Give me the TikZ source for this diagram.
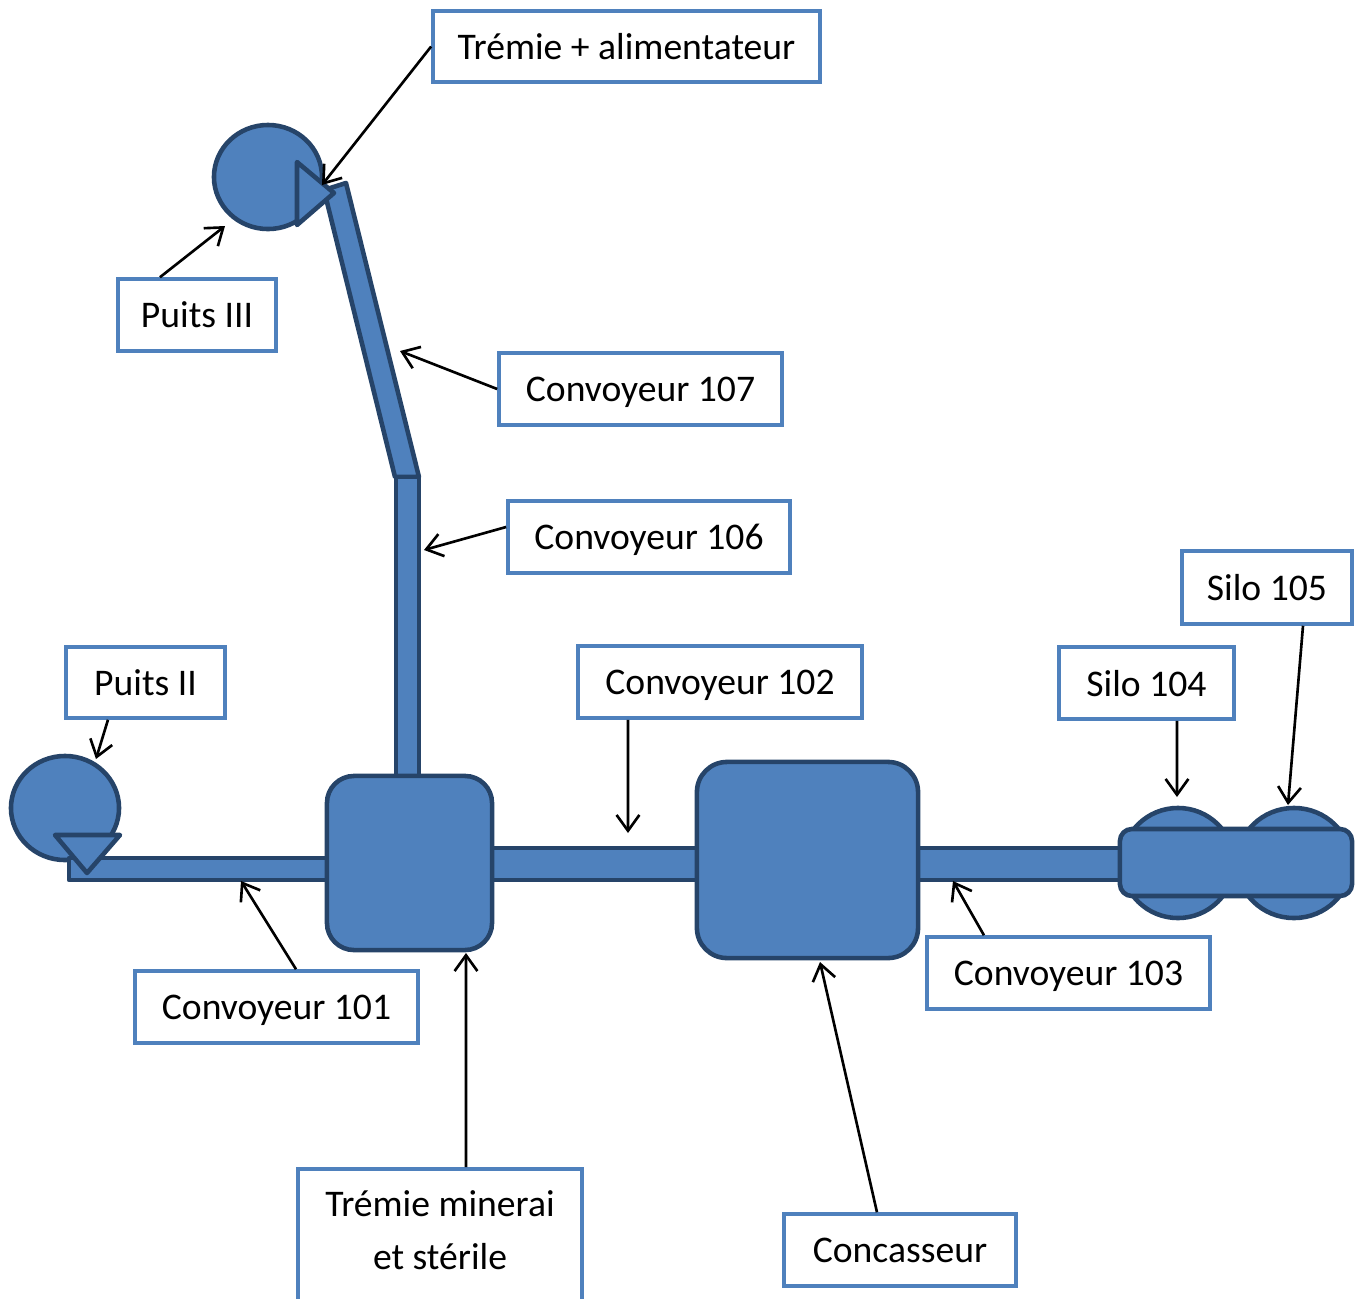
\documentclass[tikz,border=0pt]{standalone}
\usepackage{fontspec}
\setmainfont{Carlito}
\usetikzlibrary{arrows.meta,shapes.geometric}
\definecolor{unitfill}{HTML}{4F81BD}
\definecolor{unitline}{HTML}{264469}
\definecolor{tagline}{HTML}{4F81BD}
\begin{document}
\begin{tikzpicture}[x=0.01cm,y=-0.01cm,
  unit/.style={draw=unitline, fill=unitfill, line width=1.3pt, line join=round},
  tag/.style={draw=tagline, line width=1pt, fill=white, inner sep=0pt, text depth=0pt,
    font=\fontsize{10.7}{15}\selectfont, align=center},
  plain/.style={inner sep=0pt, font=\fontsize{10.7}{15}\selectfont, align=center},
  pointer/.style={-{Straight Barb[length=4.5pt,width=6.5pt]}, line width=0.75pt, black}
]
\useasboundingbox (0,0) rectangle (1362,1299);

% --- shaft III, its feed hopper and the inclined conveyor 107 ---
\node[unit, ellipse, inner sep=0pt, minimum width=1.08cm, minimum height=1.04cm] (puits3) at (268,177) {};
\draw[unit] (324,190) -- (346,183) -- (419,477) -- (395,477) -- cycle;
\draw[unit] (396,477) rectangle (419,777);
\draw[unit] (297,162) -- (334,193) -- (297,225) -- cycle;

% --- shaft II and conveyor 101 ---
\node[unit, ellipse, inner sep=0pt, minimum width=1.08cm, minimum height=1.04cm] (puits2) at (65,808) {};
\draw[unit] (69,858) rectangle (330,880);
\draw[unit] (55,835) -- (120,835) -- (87,873) -- cycle;

% --- conveyors 102 and 103 ---
\draw[unit] (490,848) rectangle (700,880);
\draw[unit] (915,848) rectangle (1125,880);

% --- ore / waste hopper and crusher ---
\node[unit, rounded corners=0.27cm, minimum width=1.65cm, minimum height=1.74cm] (hopper) at (409.5,863) {};
\node[unit, rounded corners=0.30cm, minimum width=2.21cm, minimum height=1.96cm] (crusher) at (807.5,860) {};

% --- silos 104 and 105 ---
\node[unit, ellipse, inner sep=0pt, minimum width=1.12cm, minimum height=1.10cm] (silo104) at (1178,863) {};
\node[unit, ellipse, inner sep=0pt, minimum width=1.14cm, minimum height=1.10cm] (silo105) at (1294,863) {};
\node[unit, rounded corners=0.12cm, minimum width=2.32cm, minimum height=0.67cm] (silobar) at (1236,862.5) {};

% --- labels ---
\node[tag, minimum width=3.87cm, minimum height=0.71cm] (tagFeed) at (626.5,46.5) {Trémie + alimentateur};
\node[tag, minimum width=1.58cm, minimum height=0.72cm] (tagP3) at (197,315) {Puits III};
\node[tag, minimum width=2.83cm, minimum height=0.72cm] (tag107) at (640.5,389) {Convoyeur 107};
\node[tag, minimum width=2.82cm, minimum height=0.72cm] (tag106) at (649,537) {Convoyeur 106};
\node[tag, minimum width=1.59cm, minimum height=0.71cm] (tagP2) at (145.5,682.5) {Puits II};
\node[tag, minimum width=2.84cm, minimum height=0.72cm] (tag102) at (720,682) {Convoyeur 102};
\node[tag, minimum width=1.75cm, minimum height=0.72cm] (tagS104) at (1146.5,683) {Silo 104};
\node[tag, minimum width=1.70cm, minimum height=0.73cm] (tagS105) at (1267,587.5) {Silo 105};
\node[tag, minimum width=2.83cm, minimum height=0.72cm] (tag101) at (276.5,1007) {Convoyeur 101};
\node[tag, minimum width=2.83cm, minimum height=0.72cm] (tag103) at (1068.5,973) {Convoyeur 103};
\node[tag, anchor=north, minimum width=2.84cm, minimum height=1.80cm] (tagHopper) at (440,1167) {};
\node[plain] (tagHopperText) at (440,1230) {Trémie minerai\\et stérile};
\node[tag, minimum width=2.32cm, minimum height=0.72cm] (tagCrusher) at (900,1250) {Concasseur};

% --- pointer targets ---
\coordinate (feedEnd) at (322,185);
\coordinate (p3End) at (225,226);
\coordinate (c107End) at (400,351);
\coordinate (c106End) at (424,550);
\coordinate (p2End) at (96,759);
\coordinate (c102End) at (628,833);
\coordinate (s104End) at (1177,797);
\coordinate (s105End) at (1288,805);
\coordinate (c101End) at (241,881);
\coordinate (c103End) at (953,881);
\coordinate (hopperEnd) at (466,953);
\coordinate (crusherEnd) at (820,962);

% --- pointers ---
\draw[pointer] (tagFeed.west) -- (feedEnd);
\draw[pointer] ([xshift=-0.37cm]tagP3.north) -- (p3End);
\draw[pointer] (tag107.west) -- (c107End);
\draw[pointer] ([yshift=0.1cm]tag106.west) -- (c106End);
\draw[pointer] ([xshift=-0.375cm]tagP2.south) -- (p2End);
\draw[pointer] ([xshift=-0.92cm]tag102.south) -- (c102End);
\draw[pointer] ([xshift=0.305cm]tagS104.south) -- (s104End);
\draw[pointer] ([xshift=0.36cm]tagS105.south) -- (s105End);
\draw[pointer] ([xshift=0.195cm]tag101.north) -- (c101End);
\draw[pointer] ([xshift=-0.845cm]tag103.north) -- (c103End);
\draw[pointer] ([xshift=0.26cm]tagHopper.north) -- (hopperEnd);
\draw[pointer] ([xshift=-0.23cm]tagCrusher.north) -- (crusherEnd);
\end{tikzpicture}
\end{document}
